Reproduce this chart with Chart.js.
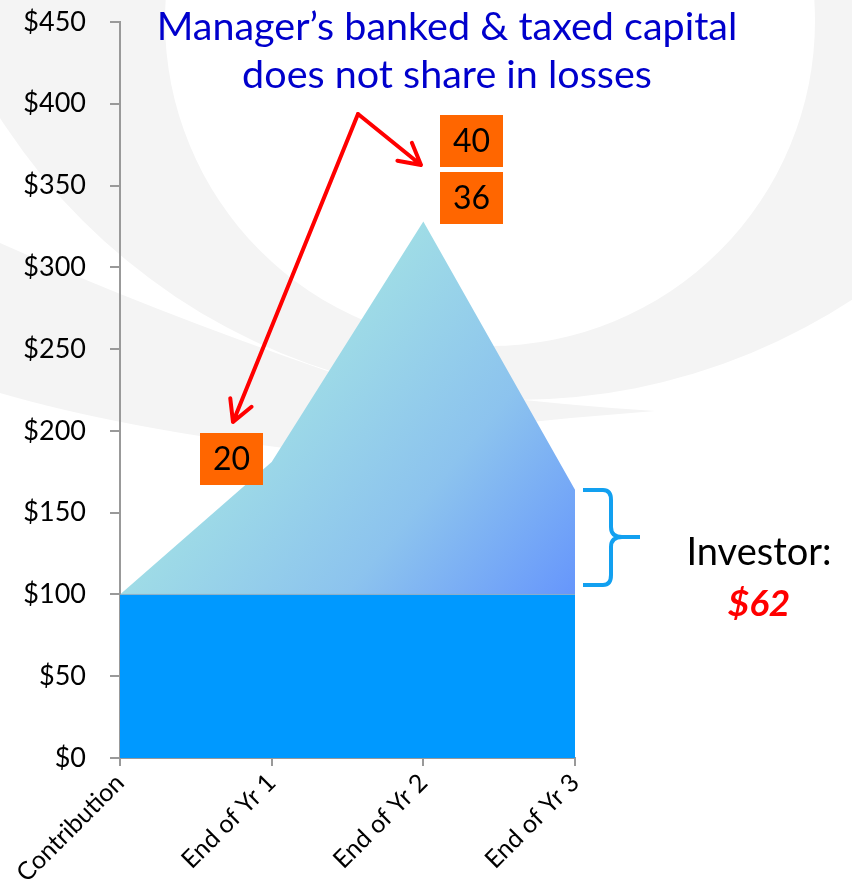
<!DOCTYPE html>
<html>
<head>
<meta charset="utf-8">
<script src="https://cdn.jsdelivr.net/npm/chart.js@4.4.0/dist/chart.umd.min.js"></script>
<style>
  html, body { margin: 0; padding: 0; background: #fff; }
  #wrap { width: 852px; height: 887px; }
</style>
</head>
<body>
<div id="wrap"><canvas id="area-chart" width="852" height="887"></canvas></div>
<script>
const categories = ['Contribution', 'End of Yr 1', 'End of Yr 2', 'End of Yr 3'];
const investorCapital = [100, 100, 100, 100];
const totalValue = [100, 181, 328, 164];
const yTicks = [0, 50, 100, 150, 200, 250, 300, 350, 400, 450];
const managerYr1 = ['20'];
const managerYr2 = ['40', '36'];
const investorGain = '$62';
const titleLines = ['Manager\u2019s banked & taxed capital', 'does not share in losses'];

const FONT = 'Lato, "Noto Sans", sans-serif';

function arrow(ctx, x0, y0, x1, y1) {
  const ang = Math.atan2(y1 - y0, x1 - x0);
  const len = 24;
  ctx.beginPath();
  ctx.moveTo(x0, y0);
  ctx.lineTo(x1, y1);
  ctx.moveTo(x1 - len * Math.cos(ang - 0.5), y1 - len * Math.sin(ang - 0.5));
  ctx.lineTo(x1, y1);
  ctx.lineTo(x1 - len * Math.cos(ang + 0.5), y1 - len * Math.sin(ang + 0.5));
  ctx.stroke();
}

function box(ctx, x, y, w, h, label) {
  ctx.fillStyle = '#FF6600';
  ctx.fillRect(x, y, w, h);
  ctx.fillStyle = '#000';
  ctx.font = '32px ' + FONT;
  ctx.textAlign = 'center';
  ctx.textBaseline = 'middle';
  ctx.fillText(label, x + w / 2, y + h / 2 + 1);
}

// faint logo watermark behind everything
const backdrop = {
  id: 'backdrop',
  beforeDraw(chart) {
    const ctx = chart.ctx;
    ctx.save();
    ctx.fillStyle = '#F4F4F4';
    ctx.beginPath();
    ctx.arc(516, -213, 613, 0, Math.PI * 2);
    ctx.moveTo(490 + 325, 21);
    ctx.arc(490, 21, 325, 0, Math.PI * 2);
    ctx.fill('evenodd');
    // lower swoosh
    ctx.beginPath();
    ctx.moveTo(0, 243);
    ctx.quadraticCurveTo(150, 310, 330, 372);
    ctx.quadraticCurveTo(480, 400, 655, 411);
    ctx.quadraticCurveTo(480, 424, 300, 450);
    ctx.quadraticCurveTo(120, 428, 0, 393);
    ctx.closePath();
    ctx.fill();
    ctx.restore();
  }
};

const notes = {
  id: 'notes',
  afterDraw(chart) {
    const ctx = chart.ctx;
    ctx.save();

    // heading
    ctx.fillStyle = '#0000CC';
    ctx.textAlign = 'center';
    ctx.textBaseline = 'alphabetic';
    ctx.font = '36px ' + FONT;
    const w = ctx.measureText(titleLines[0]).width;
    const size = 36 * 581 / w;
    ctx.font = size.toFixed(1) + 'px ' + FONT;
    ctx.fillText(titleLines[0], 447, 40);
    ctx.fillText(titleLines[1], 447, 88);

    // red arrows
    ctx.strokeStyle = '#FF0000';
    ctx.lineWidth = 4;
    ctx.lineCap = 'round';
    ctx.lineJoin = 'round';
    arrow(ctx, 358, 114, 233, 422);
    arrow(ctx, 358, 114, 421, 165);

    // manager boxes
    box(ctx, 200, 433, 63, 52, managerYr1[0]);
    box(ctx, 440, 115, 63, 52, managerYr2[0]);
    box(ctx, 440, 172, 63, 52, managerYr2[1]);

    // brace
    ctx.strokeStyle = '#12A0F0';
    ctx.lineWidth = 4;
    ctx.lineCap = 'butt';
    ctx.beginPath();
    ctx.moveTo(583, 490);
    ctx.lineTo(603, 490);
    ctx.quadraticCurveTo(611, 490, 611, 500);
    ctx.lineTo(611, 527);
    ctx.quadraticCurveTo(611, 537, 622, 537);
    ctx.lineTo(640, 537);
    ctx.moveTo(622, 537);
    ctx.quadraticCurveTo(611, 537, 611, 547);
    ctx.lineTo(611, 575);
    ctx.quadraticCurveTo(611, 585, 603, 585);
    ctx.lineTo(583, 585);
    ctx.stroke();

    // investor label
    ctx.fillStyle = '#000';
    ctx.textAlign = 'center';
    ctx.font = '38px ' + FONT;
    ctx.fillText('Investor:', 759, 553);
    ctx.fillStyle = '#FF0000';
    ctx.font = 'italic bold 37px ' + FONT;
    ctx.fillText(investorGain, 759, 604);

    ctx.restore();
  }
};

function gainFill(context) {
  const chart = context.chart;
  const a = chart.chartArea;
  if (!a) return '#8FC6EC';
  const y = chart.scales.y;
  const g = chart.ctx.createLinearGradient(a.left, y.getPixelForValue(330), a.right, y.getPixelForValue(100));
  g.addColorStop(0, '#B4F0E0');
  g.addColorStop(0.4, '#9FDCE6');
  g.addColorStop(0.7, '#8CC3EE');
  g.addColorStop(1, '#6696FC');
  return g;
}

new Chart(document.getElementById('area-chart'), {
  type: 'line',
  data: {
    labels: categories,
    datasets: [{
      label: 'Investor capital',
      data: investorCapital,
      fill: 'origin',
      backgroundColor: '#0099FF',
      borderColor: 'rgba(160,170,180,0.7)',
      borderWidth: 1,
      pointRadius: 0,
      tension: 0
    }, {
      label: 'Total value',
      data: totalValue,
      fill: '-1',
      backgroundColor: gainFill,
      borderColor: 'rgba(255,255,255,0)',
      borderWidth: 0,
      pointRadius: 0,
      tension: 0
    }]
  },
  options: {
    responsive: false,
    animation: false,
    layout: { padding: { top: 22, right: 277, left: 0, bottom: 0 } },
    plugins: {
      legend: { display: false },
      tooltip: { enabled: false }
    },
    scales: {
      x: {
        offset: false,
        border: { color: '#999', width: 2 },
        grid: { drawOnChartArea: false, drawTicks: true, tickLength: 8, color: '#999', lineWidth: 2 },
        ticks: {
          color: '#000',
          font: { family: FONT, size: 25 },
          minRotation: 45,
          maxRotation: 45,
          padding: 2
        },
        afterFit(scale) { scale.height = 129; }
      },
      y: {
        min: 0,
        max: 450,
        border: { color: '#999', width: 2 },
        grid: { drawOnChartArea: false, drawTicks: true, tickLength: 10, color: '#999', lineWidth: 2 },
        afterBuildTicks(scale) { scale.ticks = yTicks.map(v => ({ value: v })); },
        ticks: {
          color: '#000',
          font: { family: FONT, size: 27 },
          padding: 24,
          callback: v => '$' + v
        },
        afterFit(scale) {
          scale.width = 120;
          scale.paddingTop = 0;
          scale.paddingBottom = 0;
        }
      }
    }
  },
  plugins: [backdrop, notes]
});
</script>
</body>
</html>
